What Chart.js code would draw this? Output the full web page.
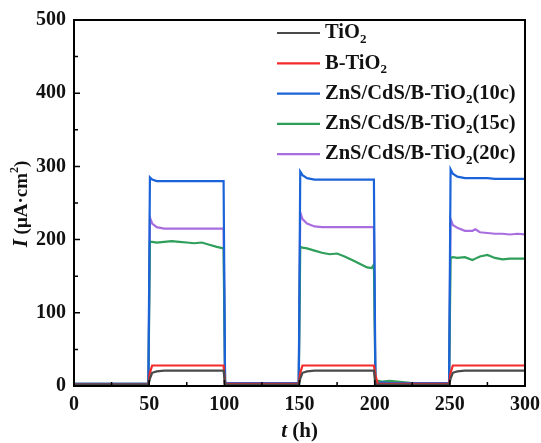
<!DOCTYPE html>
<html>
<head>
<meta charset="utf-8">
<script src="https://cdn.jsdelivr.net/npm/chart.js@4.4.0/dist/chart.umd.min.js"></script>
<style>
  html, body { margin: 0; padding: 0; background: #fff; }
  #wrap { width: 541px; height: 443px; }
</style>
</head>
<body>
<div id="wrap"><canvas id="myChart"></canvas></div>
<script>
// time points (h)
var times = [0, 25, 49.5, 50.5, 52, 55, 60, 65, 70, 75, 80, 85, 90, 95, 99.5,
             100.5, 102, 125, 149.5, 150.5, 152, 155, 160, 165, 170, 175, 180, 185, 190, 195, 198, 199.5,
             200.5, 202, 205, 210, 225, 249.5, 250.5, 252, 255, 260, 265, 267, 270, 275, 280, 285, 290, 295, 300];

var seriesLabels = ['TiO₂', 'B-TiO₂', 'ZnS/CdS/B-TiO₂(10c)', 'ZnS/CdS/B-TiO₂(15c)', 'ZnS/CdS/B-TiO₂(20c)'];
var seriesColors = ['#4a4a4a', '#f52a2a', '#1a63d8', '#2e9e5b', '#a86ee0'];

var tio2 =  [2, 2, 2, 10, 18, 20, 21, 21, 21, 21, 21, 21, 21, 21, 21,
             2, 2, 2, 2, 10, 18, 20, 21, 21, 21, 21, 21, 21, 21, 21, 21, 21,
             2, 2, 2, 2, 2, 2, 10, 18, 20, 21, 21, 21, 21, 21, 21, 21, 21, 21, 21];
var btio2 = [2, 2, 2, 18, 28, 28, 28, 28, 28, 28, 28, 28, 28, 28, 28,
             3, 3, 3, 3, 18, 28, 28, 28, 28, 28, 28, 28, 28, 28, 28, 28, 28,
             15, 3, 3, 3, 3, 3, 18, 28, 28, 28, 28, 28, 28, 28, 28, 28, 28, 28, 28];
var c10 =   [3, 3, 3, 285, 282, 280, 280, 280, 280, 280, 280, 280, 280, 280, 280,
             5, 4, 4, 4, 293, 288, 284, 282, 282, 282, 282, 282, 282, 282, 282, 282, 282,
             4, 4, 5, 4, 4, 4, 296, 290, 286, 284, 284, 284, 284, 284, 283, 283, 283, 283, 283];
var c15 =   [3, 3, 3, 197, 197, 196, 197, 198, 197, 196, 195, 196, 193, 190, 188,
             4, 3, 3, 3, 190, 189, 188, 185, 182, 180, 181, 177, 172, 167, 162, 161, 166,
             5, 7, 6, 7, 4, 4, 175, 176, 175, 176, 172, 174, 177, 179, 175, 173, 174, 174, 174];
var c20 =   [3, 3, 3, 230, 222, 217, 215, 215, 215, 215, 215, 215, 215, 215, 215,
             4, 4, 4, 4, 237, 228, 222, 218, 217, 217, 217, 217, 217, 217, 217, 217, 217,
             4, 4, 4, 4, 4, 4, 228, 220, 216, 212, 212, 214, 210, 209, 208, 208, 207, 208, 207];
var seriesValues = [tio2, btio2, c10, c15, c20];

var xTicks = [0, 50, 100, 150, 200, 250, 300];
var yTicks = [0, 100, 200, 300, 400, 500];

var FONT = "'Liberation Serif', 'Times New Roman', serif";

function toPoints(vals) {
  return times.map(function (t, i) { return { x: t, y: vals[i] }; });
}

var datasets = seriesLabels.map(function (lab, i) {
  return {
    label: lab,
    data: toPoints(seriesValues[i]),
    borderColor: seriesColors[i],
    backgroundColor: seriesColors[i],
    borderWidth: 2.2,
    pointRadius: 0,
    tension: 0,
    fill: false
  };
});

// draw a label, turning ₂ into a small lowered 2
function drawSubText(ctx, text, x, y, size) {
  var parts = text.split('₂');
  for (var i = 0; i < parts.length; i++) {
    ctx.font = 'bold ' + size + 'px ' + FONT;
    ctx.fillText(parts[i], x, y);
    x += ctx.measureText(parts[i]).width;
    if (i < parts.length - 1) {
      ctx.font = 'bold ' + Math.round(size * 0.65) + 'px ' + FONT;
      ctx.fillText('2', x, y + size * 0.3);
      x += ctx.measureText('2').width;
    }
  }
}

var framePlugin = {
  id: 'frame',
  afterDraw: function (chart) {
    var ctx = chart.ctx, a = chart.chartArea;
    var xs = chart.scales.x, ys = chart.scales.y;
    ctx.save();
    ctx.strokeStyle = '#000';
    ctx.lineWidth = 2;
    ctx.strokeRect(a.left, a.top, a.right - a.left, a.bottom - a.top);
    ctx.lineWidth = 1.5;
    ctx.beginPath();
    for (var v = 25; v < 300; v += 25) {
      var px = xs.getPixelForValue(v);
      var len = (v % 50 === 0) ? 6 : 4;
      ctx.moveTo(px, a.bottom); ctx.lineTo(px, a.bottom - len);
    }
    for (var w = 50; w < 500; w += 50) {
      var py = ys.getPixelForValue(w);
      var l2 = (w % 100 === 0) ? 6 : 4;
      ctx.moveTo(a.left, py); ctx.lineTo(a.left + l2, py);
    }
    ctx.stroke();

    // legend
    ctx.textBaseline = 'middle';
    chart.data.datasets.forEach(function (ds, i) {
      var y = 33 + i * 30.3;
      ctx.strokeStyle = ds.borderColor;
      ctx.lineWidth = 2.2;
      ctx.beginPath(); ctx.moveTo(277, y); ctx.lineTo(320, y); ctx.stroke();
      ctx.fillStyle = '#111';
      drawSubText(ctx, ds.label, 325, y, 20.5);
    });

    // axis titles
    ctx.fillStyle = '#111';
    ctx.textBaseline = 'middle';
    ctx.font = 'italic bold 21px ' + FONT;
    var tw = ctx.measureText('t').width;
    ctx.font = 'bold 21px ' + FONT;
    var rest = ' (h)';
    var total = tw + ctx.measureText(rest).width;
    var sx = (a.left + a.right) / 2 - total / 2;
    ctx.font = 'italic bold 21px ' + FONT;
    ctx.fillText('t', sx, 432);
    ctx.font = 'bold 21px ' + FONT;
    ctx.fillText(rest, sx + tw, 432);

    ctx.translate(22, 204);
    ctx.rotate(-Math.PI / 2);
    ctx.font = 'italic bold 21px ' + FONT;
    var iw = ctx.measureText('I').width;
    ctx.font = 'bold 19px ' + FONT;
    var r1 = ' (μA·cm';
    var w1 = ctx.measureText(r1).width;
    ctx.font = 'bold 12px ' + FONT;
    var w2 = ctx.measureText('2').width;
    ctx.font = 'bold 19px ' + FONT;
    var w3 = ctx.measureText(')').width;
    var start = -(iw + w1 + w2 + w3) / 2;
    ctx.font = 'italic bold 21px ' + FONT;
    ctx.fillText('I', start, 0);
    ctx.font = 'bold 19px ' + FONT;
    ctx.fillText(r1, start + iw, 0);
    ctx.font = 'bold 12px ' + FONT;
    ctx.fillText('2', start + iw + w1, -7);
    ctx.font = 'bold 19px ' + FONT;
    ctx.fillText(')', start + iw + w1 + w2, 0);
    ctx.restore();
  }
};

var ctx = document.getElementById('myChart');
var myChart = new Chart(ctx, {
  type: 'line',
  data: { datasets: datasets },
  options: {
    responsive: true,
    maintainAspectRatio: false,
    animation: false,
    layout: { padding: { top: 20, right: 16, bottom: 0, left: 0 } },
    plugins: {
      legend: { display: false },
      tooltip: { enabled: false }
    },
    scales: {
      x: {
        type: 'linear',
        min: 0, max: 300,
        afterBuildTicks: function (s) { s.ticks = xTicks.map(function (v) { return { value: v }; }); },
        afterFit: function (s) { s.height = 57; s.paddingLeft = 0; s.paddingRight = 0; },
        grid: { display: false, drawTicks: false },
        border: { display: false },
        ticks: { color: '#111', padding: 7, maxRotation: 0, font: { family: FONT, size: 20, weight: 'bold' } }
      },
      y: {
        min: 0, max: 500,
        afterBuildTicks: function (s) { s.ticks = yTicks.map(function (v) { return { value: v }; }); },
        afterFit: function (s) { s.width = 74; s.paddingTop = 0; s.paddingBottom = 0; },
        grid: { display: false, drawTicks: false },
        border: { display: false },
        ticks: { color: '#111', padding: 8, font: { family: FONT, size: 20, weight: 'bold' } }
      }
    }
  },
  plugins: [framePlugin]
});
</script>
</body>
</html>
